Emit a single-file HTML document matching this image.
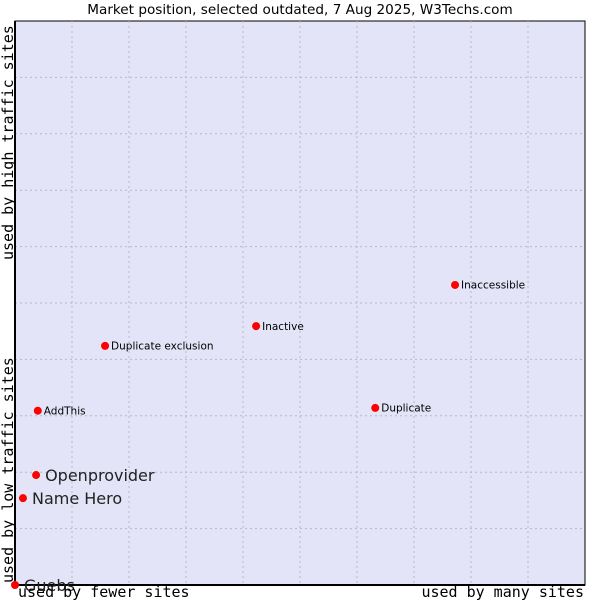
<!DOCTYPE html>
<html><head><meta charset="utf-8"><style>
body{margin:0;background:#fff;}
svg{display:block;font-family:"DejaVu Sans","Liberation Sans",sans-serif;}
</style></head><body>
<svg id="chart" width="600" height="600" viewBox="0 0 600 600">
<text x="300" y="14" text-anchor="middle" font-size="13.6" fill="#000">Market position, selected outdated, 7 Aug 2025, W3Techs.com</text>
<rect x="15" y="21" width="570" height="564" fill="#e3e4f8" stroke="#000" stroke-width="1"/>
<g id="grid"></g>
<line x1="15" y1="21" x2="15" y2="585" stroke="#000" stroke-width="2"/>
<line x1="15" y1="585" x2="585" y2="585" stroke="#000" stroke-width="2"/>
<g id="points"></g>
<text x="18" y="597" font-family="'DejaVu Sans Mono','Liberation Mono',monospace" font-size="15">used by fewer sites</text>
<text x="584" y="597" text-anchor="end" font-family="'DejaVu Sans Mono','Liberation Mono',monospace" font-size="15">used by many sites</text>
<text transform="translate(13,583) rotate(-90)" font-family="'DejaVu Sans Mono','Liberation Mono',monospace" font-size="15">used by low traffic sites</text>
<text transform="translate(13,260) rotate(-90)" font-family="'DejaVu Sans Mono','Liberation Mono',monospace" font-size="15">used by high traffic sites</text>
</svg>
<script>
const names=["Guebs","Name Hero","Openprovider","AddThis","Duplicate exclusion","Inactive","Duplicate","Inaccessible"];
const xValues=[0,0.014,0.037,0.040,0.158,0.423,0.632,0.772];
const yValues=[0,0.154,0.195,0.309,0.424,0.459,0.314,0.532];
const bigLabel=[true,true,true,false,false,false,false,false];
const L=15,R=585,T=21,B=585;
const sx=v=>L+v*(R-L), sy=v=>B-v*(B-T);
const NS="http://www.w3.org/2000/svg";
const grid=document.getElementById('grid');
for(let i=1;i<10;i++){
 const l=document.createElementNS(NS,'line');
 
 
 l.setAttribute('x1',sx(i/10));l.setAttribute('x2',sx(i/10));l.setAttribute('y1',T);l.setAttribute('y2',B);
 l.setAttribute('stroke','#b8b8c0');l.setAttribute('stroke-dasharray','2,3');grid.appendChild(l);
 const h=document.createElementNS(NS,'line');
 
 
 h.setAttribute('y1',sy(i/10));h.setAttribute('y2',sy(i/10));h.setAttribute('x1',L);h.setAttribute('x2',R);
 h.setAttribute('stroke','#b8b8c0');h.setAttribute('stroke-dasharray','2,3');grid.appendChild(h);
}
const pts=document.getElementById('points');
names.forEach((n,i)=>{
 const x=sx(xValues[i]),y=sy(yValues[i]);
 const c=document.createElementNS(NS,'circle');
 
 
 c.setAttribute('cx',x);c.setAttribute('cy',y);c.setAttribute('r',4);c.setAttribute('fill','#f00');
 pts.appendChild(c);
 const t=document.createElementNS(NS,'text');
 
 
 const fs=bigLabel[i]?16:10.5;
 t.setAttribute('x',x+(bigLabel[i]?9:6));t.setAttribute('y',y+fs*0.36);t.setAttribute('font-size',fs);
 t.setAttribute('fill',bigLabel[i]?'#222':'#000');
 t.textContent=n;pts.appendChild(t);
});
</script>
</body></html>
